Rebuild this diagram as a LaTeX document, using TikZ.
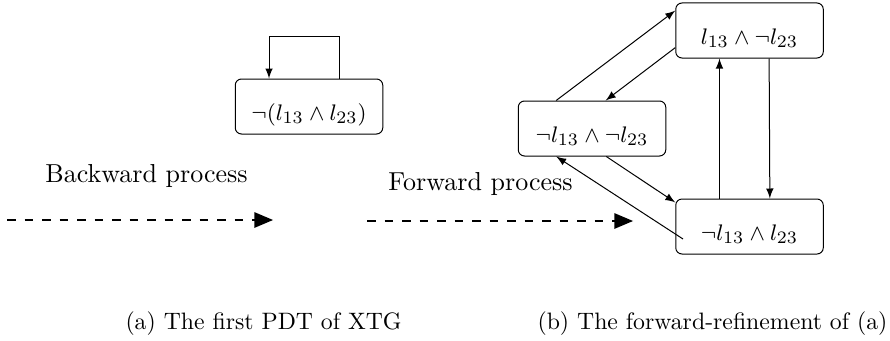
\documentclass[tikz,border=0pt]{standalone}
\usepackage{amssymb}
\usepackage{amsmath}
\usepackage{tikz}
\usetikzlibrary{arrows}

\begin{document}
\begin{tikzpicture}[x = 0.4pt, y = -0.4pt,
	    state/.style = {draw, rounded corners = 2.5pt, minimum width = 59pt, inner sep = 0pt, text height = 16.5pt, text depth = 5.5pt, font = \fontsize{9.4}{11}\selectfont},
	    trans/.style = {-latex},
	    flow/.style = {-triangle 45, line width = 0.7pt, dash pattern = on 3.5pt off 3.5pt},
	    lbl/.style = {inner sep = 0pt, font = \fontsize{10.4}{12.5}\selectfont},
	    subcap/.style = {inner sep = 0pt, font = \fontsize{9.5}{11}\selectfont}]
	    \useasboundingbox (0,0) rectangle (890,340);
	    % (a) backward
	    \node[state] (neg) at (309,106.5) {$\neg(l_{13} \land l_{23})$};
	    \coordinate (loopR) at (339,36);
	    \coordinate (loopL) at (269,36);
	    \draw[trans] (neg.north -| loopR) -- (loopR) -- (loopL) -- (neg.north -| loopL);
	    \node[lbl, anchor = base] (bwd) at (146.5,182) {Backward process};
	    \coordinate (bwdS) at (7,220);
	    \coordinate (bwdE) at (273,220);
	    \draw[flow] (bwdS) -- (bwdE);
	    % (b) forward
	    \node[state] (tf) at (749.5,30.5) {$l_{13} \land \neg l_{23}$};
	    \node[state] (ff) at (592,128.5) {$\neg l_{13} \land \neg l_{23}$};
	    \node[state] (ft) at (749.5,226.5) {$\neg l_{13} \land l_{23}$};
	    \coordinate (ftIn) at (683,239);
	    \draw[trans] (ff.142.6) -- (tf.165.9);
	    \draw[trans] (tf.193.4) -- (ff.64.7);
	    \draw[trans] (ff.297) -- (ft.162.3);
	    \draw[trans] (ftIn) -- (ff.218.2);
	    \draw[trans] (ft.137) -- (tf.223);
	    \draw[trans] (tf.305.3) -- (ft.54.7);
	    \node[lbl, anchor = base] (fwd) at (480.5,190) {Forward process};
	    \coordinate (fwdS) at (367,221);
	    \coordinate (fwdE) at (633,221);
	    \draw[flow] (fwdS) -- (fwdE);
	    % captions
	    \node[subcap, anchor = base west] (capA) at (125,329) {(a) The first PDT of XTG};
	    \node[subcap, anchor = base west] (capB) at (537,329) {(b) The forward-refinement of (a)};
\end{tikzpicture}
\end{document}
